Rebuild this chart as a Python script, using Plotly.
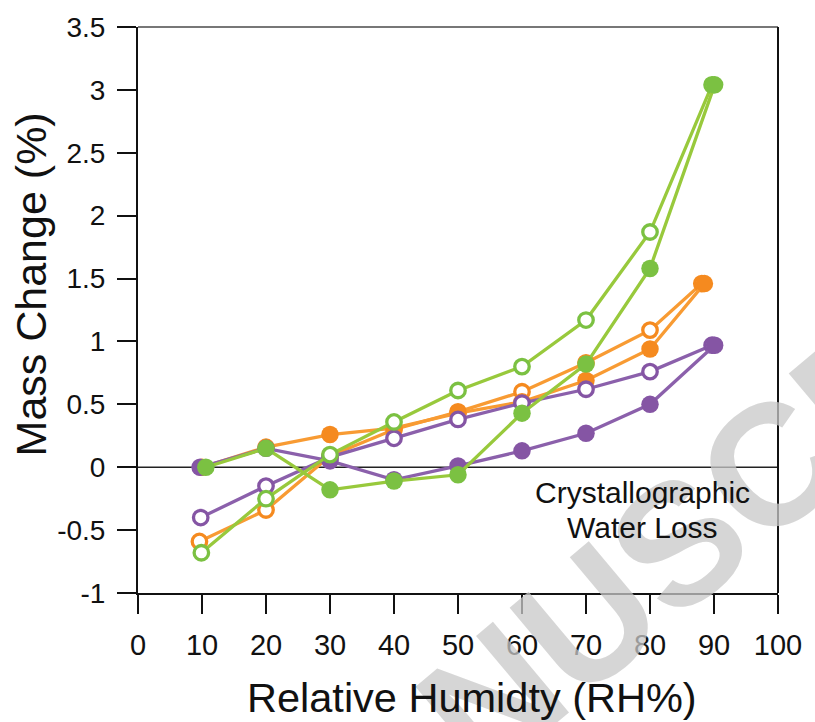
import plotly.graph_objects as go

# Relative humidity steps
rh = [10, 20, 30, 40, 50, 60, 70, 80, 90]
# x positions as plotted (first/last points slightly offset in the original)
x_orange_open = [9.6, 20, 30, 40, 50, 60, 70, 80, 88.1]
x_orange_fill = [10, 20, 30, 40, 50, 60, 70, 80, 88.5]
x_purple_open = [9.8, 20, 30, 40, 50, 60, 70, 80, 89.7]
x_purple_fill = [9.7, 20, 30, 40, 50, 60, 70, 80, 90.1]
x_green_open = [9.9, 20, 30, 40, 50, 60, 70, 80, 89.7]
x_green_fill = [10.6, 20, 30, 40, 50, 60, 70, 80, 90.1]

# Mass change (%)
orange_open = [-0.59, -0.34, 0.09, 0.30, 0.44, 0.60, 0.83, 1.09, 1.46]
orange_fill = [0.0, 0.16, 0.26, 0.31, 0.43, 0.52, 0.69, 0.94, 1.46]
purple_open = [-0.40, -0.15, 0.08, 0.23, 0.38, 0.51, 0.62, 0.76, 0.97]
purple_fill = [0.0, 0.15, 0.05, -0.10, 0.01, 0.13, 0.27, 0.50, 0.97]
green_open = [-0.68, -0.25, 0.10, 0.36, 0.61, 0.80, 1.17, 1.87, 3.04]
green_fill = [0.0, 0.15, -0.18, -0.11, -0.06, 0.43, 0.82, 1.58, 3.04]

x_ticks = [0, 10, 20, 30, 40, 50, 60, 70, 80, 90, 100]
y_ticks = [-1, -0.5, 0, 0.5, 1, 1.5, 2, 2.5, 3, 3.5]
y_tick_text = ["-1", "-0.5", "0", "0.5", "1", "1.5", "2", "2.5", "3", "3.5"]

ORANGE = "#F58A1F"
ORANGE_L = "#F89B33"
PURPLE = "#8555A4"
PURPLE_L = "#8B60AB"
GREEN = "#7BC142"
GREEN_L = "#98C93C"

FONT = "Liberation Sans, Arial, Helvetica, sans-serif"

fig = go.Figure()

# zero line
fig.add_trace(go.Scatter(x=[0, 100], y=[0, 0], mode="lines",
                         line=dict(color="#222222", width=1.6),
                         hoverinfo="skip", showlegend=False))


def add_series(x, y, color, lcolor, filled):
    fig.add_trace(go.Scatter(
        x=x, y=y, mode="lines+markers",
        line=dict(color=lcolor, width=3.3),
        marker=dict(size=17.5 if filled else 14.5,
                    color=color if filled else "white",
                    line=dict(color=color, width=0 if filled else 3.3),
                    symbol="circle"),
        showlegend=False))


add_series(x_orange_open, orange_open, ORANGE, ORANGE_L, False)
add_series(x_orange_fill, orange_fill, ORANGE, ORANGE_L, True)
add_series(x_purple_open, purple_open, PURPLE, PURPLE_L, False)
add_series(x_purple_fill, purple_fill, PURPLE, PURPLE_L, True)
add_series(x_green_open, green_open, GREEN, GREEN_L, False)
add_series(x_green_fill, green_fill, GREEN, GREEN_L, True)

fig.update_layout(
    width=815, height=722,
    margin=dict(l=138, r=37, t=27, b=129),
    paper_bgcolor="white", plot_bgcolor="white",
    font=dict(family=FONT, color="#111111"),
    xaxis=dict(range=[0, 100], tickvals=x_ticks, ticks="outside", ticklen=19,
               tickwidth=2, tickcolor="#111111", showline=True, linecolor="#111111",
               linewidth=2, showgrid=False, zeroline=False, ticklabelstandoff=6,
               tickfont=dict(size=29, family=FONT, color="#111111")),
    yaxis=dict(range=[-1, 3.5], tickvals=y_ticks, ticktext=y_tick_text,
               ticks="outside", ticklen=19, tickwidth=2, tickcolor="#111111",
               showline=True, linecolor="#111111", linewidth=2, showgrid=False,
               zeroline=False, ticklabelstandoff=6,
               tickfont=dict(size=28, family=FONT, color="#111111")),
    shapes=[
        dict(type="line", xref="paper", yref="paper", x0=0, x1=1, y0=1, y1=1,
             line=dict(color="#777777", width=2)),
        dict(type="line", xref="paper", yref="paper", x0=1, x1=1, y0=0, y1=1,
             line=dict(color="#111111", width=2)),
    ],
    annotations=[
        dict(text="MANUSCRIPT", xref="paper", yref="paper", x=0.845, y=0.09,
             xanchor="center", yanchor="middle", textangle=-40, showarrow=False,
             font=dict(size=172, family=FONT, color="rgba(200,200,200,0.75)", weight="bold")),
        dict(text="Crystallographic", x=78.9, y=-0.203,
             xref="x", yref="y", showarrow=False, xanchor="center", yanchor="middle",
             font=dict(size=30, family=FONT, color="#111111")),
        dict(text="Water Loss", x=78.9, y=-0.481,
             xref="x", yref="y", showarrow=False, xanchor="center", yanchor="middle",
             font=dict(size=30, family=FONT, color="#111111")),
        dict(text="Relative Humidty (RH%)", xref="paper", yref="paper",
             x=0.522, y=-0.184, xanchor="center", yanchor="middle", showarrow=False,
             font=dict(size=41.5, family=FONT, color="#111111")),
        dict(text="Mass Change (%)", xref="paper", yref="paper",
             x=-0.168, y=0.546, xanchor="center", yanchor="middle", showarrow=False,
             textangle=-90, font=dict(size=43, family=FONT, color="#111111")),
    ],
)

fig.write_html("out.html")
